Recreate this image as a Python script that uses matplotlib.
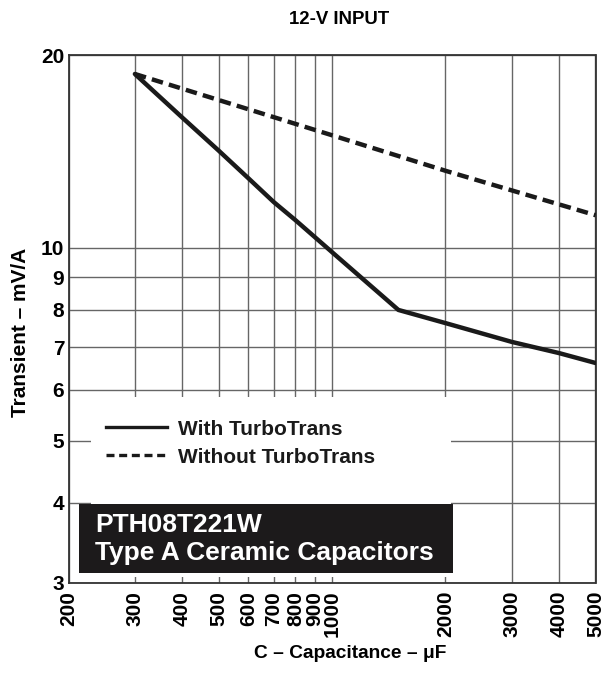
import matplotlib
matplotlib.use("Agg")
import matplotlib.pyplot as plt
from matplotlib.patches import Rectangle
from matplotlib.lines import Line2D

plt.rcParams['font.family'] = ['Liberation Sans', 'DejaVu Sans']
plt.rcParams['font.weight'] = 'bold'

# Data
cap_with = [300, 400, 500, 600, 700, 800, 900, 1000, 1500, 2000, 3000, 4000, 5000]
trans_with = [18.7, 16.0, 14.2, 12.85, 11.8, 11.05, 10.4, 9.85, 8.0, 7.63, 7.13, 6.85, 6.61]
cap_without = [300, 1000, 2000, 5000]
trans_without = [18.7, 15.0, 13.2, 11.25]

x_ticks = [200, 300, 400, 500, 600, 700, 800, 900, 1000, 2000, 3000, 4000, 5000]
x_ticklabels = [str(v) for v in x_ticks]
y_ticks = [3, 4, 5, 6, 7, 8, 9, 10, 20]
y_ticklabels = [str(v) for v in y_ticks]

title = "12-V INPUT"
xlabel = "C – Capacitance – μF"
ylabel = "Transient – mV/A"
legend_labels = ["With TurboTrans", "Without TurboTrans"]
box_lines = ["PTH08T221W", "Type A Ceramic Capacitors"]

W, H = 608, 677
fig = plt.figure(figsize=(W / 100, H / 100), dpi=100)
left, right, top, bottom = 68.5, 595.5, 55.3, 582.5
ax = fig.add_axes([left / W, 1 - bottom / H, (right - left) / W, (bottom - top) / H])

ax.set_xscale('log')
ax.set_yscale('log')
ax.set_xlim(200, 5000)
ax.set_ylim(3, 20)

ax.plot(cap_with, trans_with, color='#1a1a1a', lw=3.2, solid_capstyle='round',
        solid_joinstyle='round', zorder=5)
ax.plot(cap_without, trans_without, color='#1a1a1a', lw=3.2, dashes=(2.6, 1.4),
        zorder=5)

ax.xaxis.set_major_locator(matplotlib.ticker.FixedLocator(x_ticks))
ax.xaxis.set_minor_locator(matplotlib.ticker.NullLocator())
ax.set_xticklabels(x_ticklabels, rotation=90, fontsize=15, fontweight='bold')
ax.yaxis.set_major_locator(matplotlib.ticker.FixedLocator(y_ticks))
ax.yaxis.set_minor_locator(matplotlib.ticker.NullLocator())
ax.set_yticklabels(y_ticklabels, fontsize=15, fontweight='bold')
ax.tick_params(axis='both', length=0, pad=3)
ax.tick_params(axis='x', pad=6)

ax.grid(True, which='major', color='#666666', lw=1.0)
ax.set_axisbelow(True)
for s in ax.spines.values():
    s.set_color('#333333')
    s.set_linewidth(1.3)

# white panel covering grid behind legend
ax.add_patch(Rectangle((0.0427, 0.0104), 0.7258 - 0.0427, 0.3519 - 0.0104,
                       transform=ax.transAxes, facecolor='white', edgecolor='none', zorder=2))
# black label box
ax.add_patch(Rectangle((0.0199, 0.018), 0.7296 - 0.0199, 0.1489 - 0.018,
                       transform=ax.transAxes, facecolor='#1c1a1b', edgecolor='none', zorder=3))
ax.text(0.0503, 0.0964, box_lines[0], transform=ax.transAxes, color='white',
        fontsize=19, fontweight='bold', va='baseline', ha='left', zorder=4)
ax.text(0.0503, 0.0427, box_lines[1], transform=ax.transAxes, color='white',
        fontsize=19, fontweight='bold', va='baseline', ha='left', zorder=4)

# legend
ax.add_line(Line2D([0.0712, 0.1869], [0.295, 0.295], transform=ax.transAxes,
                   color='#1a1a1a', lw=2.4, zorder=4))
ax.add_line(Line2D([0.0712, 0.1869], [0.2418, 0.2418], transform=ax.transAxes,
                   color='#1a1a1a', lw=2.4, dashes=(2.4, 1.4), zorder=4))
ax.text(0.2078, 0.2798, legend_labels[0], transform=ax.transAxes, fontsize=15,
        fontweight='bold', va='baseline', ha='left', color='#1a1a1a', zorder=4)
ax.text(0.2078, 0.2261, legend_labels[1], transform=ax.transAxes, fontsize=15,
        fontweight='bold', va='baseline', ha='left', color='#1a1a1a', zorder=4)

fig.text(339 / W, 1 - 20 / H, title, ha='center', va='center', fontsize=13.4, fontweight='bold')
fig.text(350 / W, 1 - 653 / H, xlabel, ha='center', va='center', fontsize=13.8, fontweight='bold')
fig.text(21 / W, 1 - 332 / H, ylabel, ha='center', va='center', rotation=90,
         fontsize=15, fontweight='bold')

fig.savefig("out.png", dpi=100)
